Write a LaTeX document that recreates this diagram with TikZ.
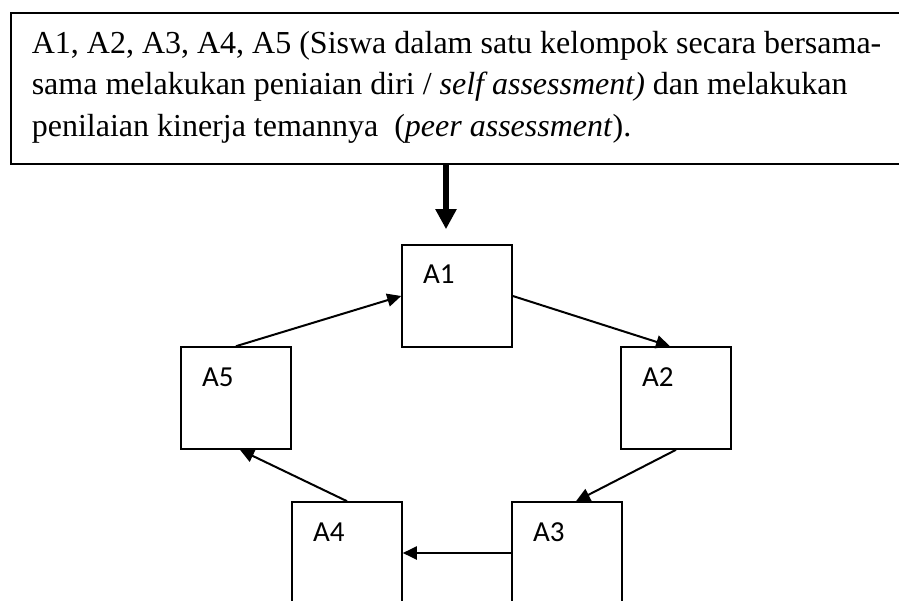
\documentclass[tikz,border=0pt]{standalone}
\usepackage{fontspec}
\setmainfont{Liberation Serif}
\newfontfamily\boxfont{Carlito}
\usetikzlibrary{arrows.meta}
\tikzset{->,>={Triangle[width=13pt,length=14pt]},
flow/.style={draw, line width=2pt, ->},
step box/.style={draw, line width=1.6pt, minimum width=110pt, minimum height=102pt,
  inner xsep=21pt, inner ysep=0pt, text width=68pt, align=left,
  text height=39pt, text depth=63pt, font=\boxfont\fontsize{29}{32}\selectfont},
}

\begin{document}
\begin{tikzpicture}[x=1pt, y=-1pt, line width=1.6pt]
    \useasboundingbox (0,0) rectangle (899,601);
        \node[draw, line width=1.8pt, anchor=north west, minimum width=900pt, minimum height=151pt] (topbox) at (10,12) {};
        \node[anchor=north west, inner sep=0pt, align=left, font=\fontsize{32}{41.5}\selectfont] (desc) at (31,30) {
            A1, A2, A3, A4, A5 (Siswa dalam satu kelompok secara bersama-\\
            sama melakukan peniaian diri / \textit{self assessment)} dan melakukan\\
            penilaian kinerja temannya\ \ (\textit{peer assessment}).
        };
        \node[step box] (a1) at (457,296) {A1};
        \node[step box] (a2) at (676,398) {A2};
        \node[step box] (a3) at (567,553) {A3};
        \node[step box] (a4) at (347,553) {A4};
        \node[step box] (a5) at (236,398) {A5};
        \coordinate (tip) at ([xshift=-11pt, yshift=15pt]a1.north);
        \draw[line width=6pt, -{Triangle[width=20pt,length=20pt]}] (tip |- topbox.south) -- (tip);
        \path
        (a1.east) edge[flow] ([xshift=-6pt]a2.north)
        (a2.south) edge[flow] ([xshift=9pt]a3.north)
        (a3.west) edge[flow] (a4.east)
        (a4.north) edge[flow] ([xshift=4pt]a5.south)
        (a5.north) edge[flow] (a1.west)
        ;
    \end{tikzpicture}
\end{document}
